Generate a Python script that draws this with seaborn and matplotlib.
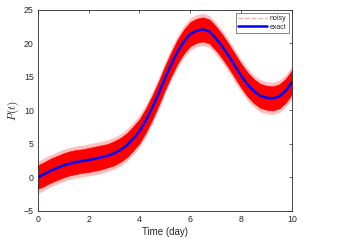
import numpy as np
import pandas as pd
import matplotlib
matplotlib.use("Agg")
import matplotlib.pyplot as plt
import seaborn as sns
from matplotlib.lines import Line2D

# 读取的数据
t_days = [0, 0.25, 0.5, 0.75, 1.0, 1.25, 1.5, 1.75, 2.0, 2.25, 2.5, 2.75, 3.0,
          3.25, 3.5, 3.75, 4.0, 4.25, 4.5, 4.75, 5.0, 5.25, 5.5, 5.75, 6.0,
          6.25, 6.5, 6.75, 7.0, 7.25, 7.5, 7.75, 8.0, 8.25, 8.5, 8.75, 9.0,
          9.25, 9.5, 9.75, 10.0]
p_exact = [0.0, 0.5, 1.0, 1.4, 1.8, 2.05, 2.3, 2.45, 2.6, 2.8, 3.0, 3.25, 3.6,
           4.1, 4.8, 5.8, 6.9, 8.5, 10.4, 12.5, 14.8, 16.9, 18.8, 20.3, 21.4,
           21.9, 22.1, 21.8, 20.8, 19.6, 18.2, 16.7, 15.2, 13.9, 12.9, 12.2, 11.9,
           11.8, 12.1, 12.9, 14.2]
# 噪声带（密集部分）
noisy_low = [-1.7, -1.3, -0.8, -0.4, 0.0, 0.3, 0.5, 0.7, 0.8, 1.0, 1.2, 1.5, 1.8,
             2.3, 3.0, 4.0, 5.1, 6.7, 8.6, 10.7, 13.0, 15.1, 17.0, 18.5, 19.6,
             20.1, 20.3, 20.0, 19.0, 17.8, 16.4, 14.9, 13.4, 12.1, 11.1, 10.4, 10.1,
             10.0, 10.3, 11.1, 12.4]
noisy_high = [1.8, 2.3, 2.8, 3.2, 3.6, 3.9, 4.1, 4.2, 4.4, 4.6, 4.8, 5.0, 5.4,
              5.9, 6.6, 7.6, 8.7, 10.3, 12.2, 14.3, 16.6, 18.7, 20.6, 22.1, 23.2,
              23.7, 23.9, 23.6, 22.6, 21.4, 20.0, 18.5, 17.0, 15.7, 14.7, 14.0, 13.7,
              13.6, 13.9, 14.7, 16.0]
# 噪声尖峰范围
spike_low = [-2.4, -1.9, -1.4, -1.0, -0.6, -0.3, -0.1, 0.1, 0.2, 0.4, 0.6, 0.9, 1.2,
             1.7, 2.4, 3.4, 4.5, 6.1, 8.0, 10.1, 12.4, 14.5, 16.4, 17.9, 19.0,
             19.5, 19.7, 19.4, 18.4, 17.2, 15.8, 14.3, 12.8, 11.5, 10.5, 9.8, 9.5,
             9.4, 9.7, 10.5, 11.8]
spike_high = [2.4, 2.9, 3.4, 3.8, 4.2, 4.5, 4.7, 4.8, 5.0, 5.2, 5.4, 5.6, 6.0,
              6.5, 7.2, 8.2, 9.3, 10.9, 12.8, 14.9, 17.2, 19.3, 21.2, 22.7, 23.8,
              24.3, 24.5, 24.2, 23.2, 22.0, 20.6, 19.1, 17.6, 16.3, 15.3, 14.6, 14.3,
              14.2, 14.5, 15.3, 16.6]

x_ticks = [0, 2, 4, 6, 8, 10]
y_ticks = [-5, 0, 5, 10, 15, 20, 25]

df = pd.DataFrame({"t": t_days, "p": p_exact})

sns.set_style("white")
plt.rcParams['font.family'] = ['Liberation Sans', 'DejaVu Sans']
plt.rcParams['mathtext.fontset'] = 'cm'

fig = plt.figure(figsize=(3.41, 2.43), dpi=100)
ax = fig.add_axes([0.111, 0.132, 0.745, 0.827])

# 噪声带
ax.fill_between(t_days, spike_low, spike_high, color='#ff0000', alpha=0.25,
                linewidth=0)
ax.fill_between(t_days, noisy_low, noisy_high, color='#ff0000', linewidth=0.4,
                edgecolor='#ff0000')
# 精确解
sns.lineplot(data=df, x="t", y="p", color='#0000ff', linewidth=1.8, ax=ax,
             label='exact')

ax.set_xlim(0, 10)
ax.set_ylim(-5, 25)
ax.set_xticks(x_ticks)
ax.set_yticks(y_ticks)
ax.tick_params(direction='in', length=2.5, width=0.5, colors='#262626',
               labelsize=6.3, top=True, right=True, pad=3)
for s in ax.spines.values():
    s.set_linewidth(0.6)
    s.set_color('#262626')
    s.set_visible(True)

ax.set_xlabel('Time (day)', fontsize=7, color='#262626', labelpad=2)
ax.set_ylabel('$P(t)$', fontsize=8, color='#262626', labelpad=2)

handles = [Line2D([], [], color='#f0a8a8', linestyle='--', linewidth=0.9),
           Line2D([], [], color='#0000ff', linewidth=1.8)]
leg = ax.legend(handles, ['noisy', 'exact'], loc='upper right', fontsize=5,
                frameon=True, fancybox=False, borderpad=0.3, labelspacing=0.2,
                handlelength=4.2, handletextpad=0.4, borderaxespad=0.45)
leg.get_frame().set_edgecolor('#262626')
leg.get_frame().set_linewidth(0.5)

fig.savefig('out.png', dpi=100)
